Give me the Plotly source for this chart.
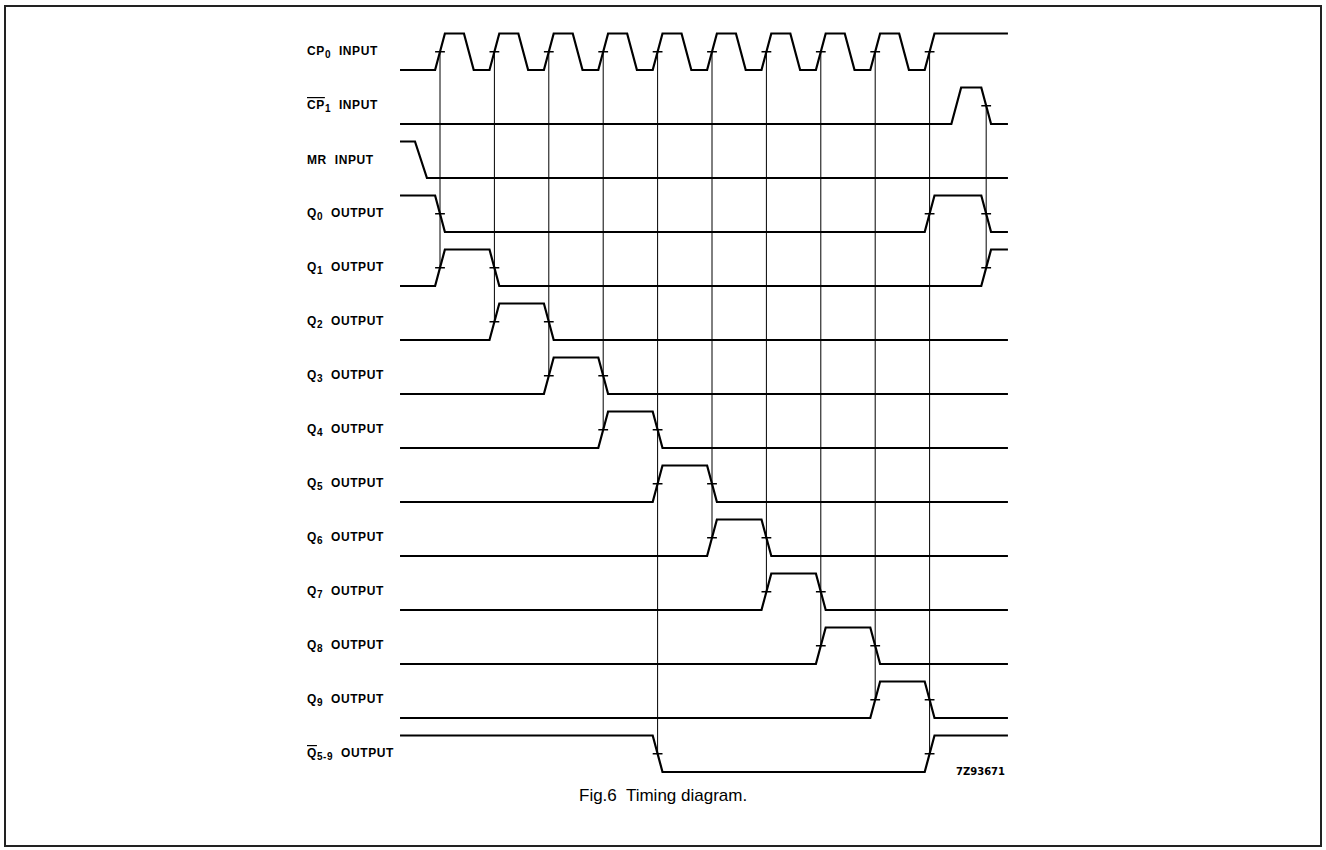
import plotly.graph_objects as go

# ---------------- data ----------------
# time is measured in CP0 clock periods; CP0 rising edges occur at t = 0 .. 9
SIGNAL_KEYS = ["CP0", "CP1", "MR", "Q0", "Q1", "Q2", "Q3", "Q4",
               "Q5", "Q6", "Q7", "Q8", "Q9", "Q59"]

SIGNAL_NAMES = ["CP", "CP", "MR", "Q", "Q", "Q", "Q", "Q",
                "Q", "Q", "Q", "Q", "Q", "Q"]
SIGNAL_SUBS = ["0", "1", "", "0", "1", "2", "3", "4",
               "5", "6", "7", "8", "9", "5-9"]
SIGNAL_INVERTED = [False, True, False, False, False, False, False, False,
                   False, False, False, False, False, True]
SIGNAL_KINDS = ["INPUT", "INPUT", "INPUT"] + ["OUTPUT"] * 11

INITIAL_LEVELS = [0, 0, 1, 1, 0, 0, 0, 0, 0, 0, 0, 0, 0, 1]

TRANSITION_TIMES = [
    [0, 0.53, 1, 1.53, 2, 2.53, 3, 3.53, 4, 4.53, 5, 5.53,
     6, 6.53, 7, 7.53, 8, 8.53, 9],          # CP0
    [9.49, 10.04],                            # CP1 (inverted)
    [-0.35],                                  # MR
    [0, 9, 10.04],                            # Q0
    [0, 1, 10.04],                            # Q1
    [1, 2],                                   # Q2
    [2, 3],                                   # Q3
    [3, 4],                                   # Q4
    [4, 5],                                   # Q5
    [5, 6],                                   # Q6
    [6, 7],                                   # Q7
    [7, 8],                                   # Q8
    [8, 9],                                   # Q9
    [4, 9],                                   # Q5-9 (inverted)
]

# reference (cause -> effect) lines
REF_TIMES = [0, 1, 2, 3, 4, 5, 6, 7, 8, 9, 10.04]
REF_FROM = ["CP0"] * 10 + ["CP1"]
REF_TO = ["Q1", "Q2", "Q3", "Q4", "Q59", "Q6", "Q7", "Q8", "Q9", "Q59", "Q1"]

T_START, T_END = -0.735, 10.44
EDGE = 0.18

CAPTION = "Fig.6  Timing diagram."
CODE = "7Z93671"

# ---------------- geometry ----------------
W, H = 1326, 850
X0_PX, PX_PER_T = 440.0, 54.4
ROW0_PX, ROW_PX, AMP_PX = 70.0, 54.0, 36.5
AMP = AMP_PX / ROW_PX


def tx(px):
    return (px - X0_PX) / PX_PER_T


def ty(px):
    return (px - ROW0_PX) / ROW_PX


row_of = {k: i for i, k in enumerate(SIGNAL_KEYS)}

fig = go.Figure()

for i, key in enumerate(SIGNAL_KEYS):
    lvl = INITIAL_LEVELS[i]
    xs, ys = [T_START], [i - AMP * lvl]
    for t in TRANSITION_TIMES[i]:
        w = 0.22 if key == "MR" else EDGE
        xs += [t - w / 2, t + w / 2]
        new = 1 - lvl
        ys += [i - AMP * lvl, i - AMP * new]
        lvl = new
    xs.append(T_END)
    ys.append(i - AMP * lvl)
    fig.add_trace(go.Scatter(x=xs, y=ys, mode="lines",
                             line=dict(color="black", width=2.2),
                             hoverinfo="skip", showlegend=False))

# reference lines and crossing ticks
vx, vy, mx, my = [], [], [], []
for t, a, b in zip(REF_TIMES, REF_FROM, REF_TO):
    ra, rb = row_of[a], row_of[b]
    vx += [t, t, None]
    vy += [ra - AMP / 2, rb - AMP / 2, None]
    for r in range(ra, rb + 1):
        if any(abs(t - tt) < 1e-6 for tt in TRANSITION_TIMES[r]):
            mx.append(t)
            my.append(r - AMP / 2)

fig.add_trace(go.Scatter(x=vx, y=vy, mode="lines",
                         line=dict(color="black", width=1),
                         hoverinfo="skip", showlegend=False))
fig.add_trace(go.Scatter(x=mx, y=my, mode="markers",
                         marker=dict(symbol="line-ew", size=7,
                                     line=dict(color="black", width=1.5)),
                         hoverinfo="skip", showlegend=False))

annotations = []
for i in range(len(SIGNAL_KEYS)):
    name = SIGNAL_NAMES[i]
    if SIGNAL_INVERTED[i]:
        name = "<span style='text-decoration:overline'>" + name + "</span>"
    sub = ""
    if SIGNAL_SUBS[i]:
        sub = "<sub><span style='font-size:10px'>" + SIGNAL_SUBS[i] + "</span></sub>"
    label = name + sub + "  " + SIGNAL_KINDS[i]
    annotations.append(dict(x=tx(305), y=i - AMP / 2, xref="x", yref="y",
                            text="<b><span style='letter-spacing:0.6px'>" + label + "</span></b>",
                            showarrow=False,
                            xanchor="left", yanchor="middle",
                            font=dict(family="Liberation Sans, Arial", size=12, color="black")))

annotations.append(dict(x=tx(980), y=ty(771), xref="x", yref="y",
                        text="<b>" + CODE + "</b>", showarrow=False,
                        xanchor="center", yanchor="middle",
                        font=dict(family="DejaVu Sans", size=10, color="black")))
annotations.append(dict(x=663 / W, y=1 - 795 / H, xref="paper", yref="paper",
                        text=CAPTION, showarrow=False,
                        xanchor="center", yanchor="middle",
                        font=dict(family="Liberation Sans, Arial", size=17, color="black")))

fig.update_layout(
    width=W, height=H,
    margin=dict(l=0, r=0, t=0, b=0),
    paper_bgcolor="white", plot_bgcolor="white",
    xaxis=dict(range=[tx(0), tx(W)], visible=False, fixedrange=True),
    yaxis=dict(range=[ty(H), ty(0)], visible=False, fixedrange=True),
    annotations=annotations,
    shapes=[dict(type="rect", xref="paper", yref="paper",
                 x0=5 / W, x1=1321 / W, y0=1 - 846 / H, y1=1 - 6 / H,
                 line=dict(color="#222", width=2))],
    showlegend=False,
)

fig.write_html("out.html",
               config={"displayModeBar": False, "staticPlot": True},
               post_script="document.body.style.margin='0px';document.body.style.overflow='hidden';")
